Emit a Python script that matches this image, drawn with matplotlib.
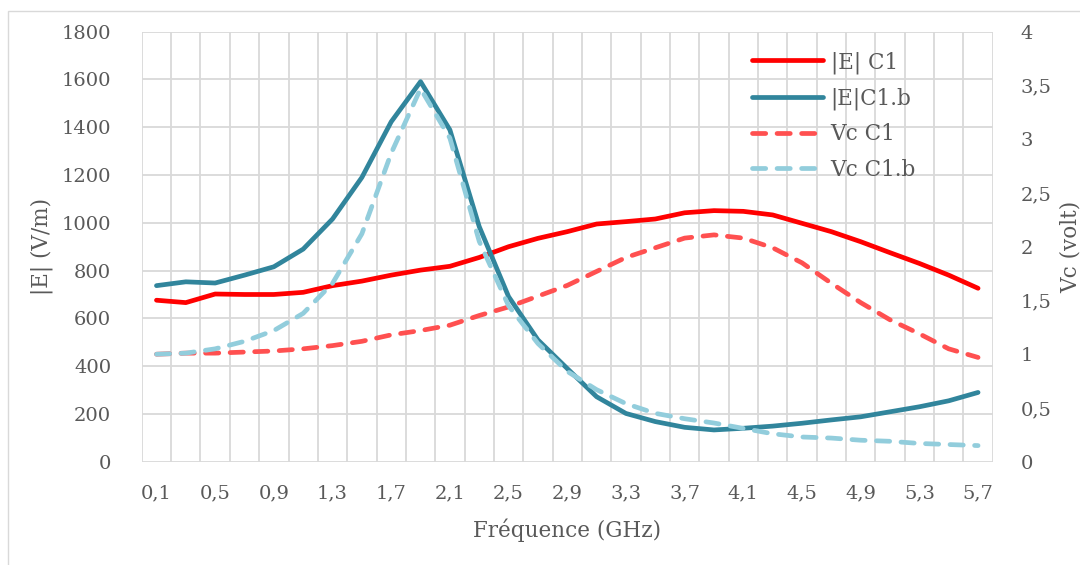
import matplotlib.pyplot as plt
from matplotlib.patches import Rectangle

# frequency categories (GHz)
freq = [0.1, 0.3, 0.5, 0.7, 0.9, 1.1, 1.3, 1.5, 1.7, 1.9, 2.1, 2.3, 2.5, 2.7, 2.9,
        3.1, 3.3, 3.5, 3.7, 3.9, 4.1, 4.3, 4.5, 4.7, 4.9, 5.1, 5.3, 5.5, 5.7]

# |E| in V/m (left axis)
e_c1 = [676, 666, 702, 700, 700, 709, 737, 756, 781, 802, 818, 855, 900, 935, 963,
        995, 1005, 1016, 1042, 1051, 1048, 1033, 998, 963, 921, 875, 830, 781, 726]
e_c1b = [737, 753, 748, 781, 816, 890, 1016, 1190, 1423, 1591, 1389, 984, 691, 510, 390,
         272, 202, 168, 144, 133, 140, 149, 161, 175, 188, 209, 230, 255, 290]

# Vc in volt (right axis)
vc_c1 = [1.0, 1.01, 1.01, 1.02, 1.03, 1.05, 1.08, 1.12, 1.18, 1.22, 1.27, 1.36, 1.44, 1.54, 1.64,
         1.77, 1.90, 1.99, 2.08, 2.11, 2.08, 1.99, 1.85, 1.66, 1.48, 1.32, 1.19, 1.05, 0.97]
vc_c1b = [1.0, 1.01, 1.05, 1.12, 1.22, 1.38, 1.66, 2.12, 2.87, 3.47, 3.01, 2.05, 1.45, 1.10, 0.84,
          0.67, 0.54, 0.45, 0.40, 0.36, 0.31, 0.26, 0.23, 0.22, 0.20, 0.19, 0.17, 0.16, 0.15]

left_ticks = [0, 200, 400, 600, 800, 1000, 1200, 1400, 1600, 1800]
right_ticks = [0, 0.5, 1, 1.5, 2, 2.5, 3, 3.5, 4]

TXT = '#595959'
GRID = '#D9D9D9'
plt.rcParams['font.family'] = ['DejaVu Serif']

fig = plt.figure(figsize=(10.8, 5.65), dpi=100)
ax = fig.add_axes([0.1313, 0.1828, 0.9192 - 0.1313, 0.9439 - 0.1828])
ax2 = ax.twinx()

# chart area border
fig.patches.append(Rectangle((8 / 1080, -0.05), 1.1, 1 - 11 / 565 + 0.05,
                             transform=fig.transFigure, fill=False,
                             edgecolor=GRID, linewidth=1.0))

x = list(range(len(freq)))
lw = 3.4
h1, = ax.plot(x, e_c1, color='#FF0000', lw=lw, solid_capstyle='round',
              solid_joinstyle='round', label='|E| C1', zorder=3)
h2, = ax.plot(x, e_c1b, color='#31859C', lw=lw, solid_capstyle='round',
              solid_joinstyle='round', label='|E|C1.b', zorder=3)
h3, = ax2.plot(x, vc_c1, color='#FF5050', lw=lw, dashes=(2.8, 2.4),
               dash_capstyle='round', label='Vc C1')
h4, = ax2.plot(x, vc_c1b, color='#92CDDC', lw=lw, dashes=(2.8, 2.4),
               dash_capstyle='round', label='Vc C1.b')

ax.set_xlim(-0.5, len(freq) - 0.5)
ax.set_ylim(0, 1800)
ax2.set_ylim(0, 4)

ax.set_xticks(x[::2])
ax.set_xticklabels([('%.1f' % f).replace('.', ',') for f in freq[::2]])
ax.set_xticks([i - 0.5 for i in range(len(freq) + 1)], minor=True)
ax.set_yticks(left_ticks)
ax.set_yticklabels([str(v) for v in left_ticks])
ax2.set_yticks(right_ticks)
ax2.set_yticklabels([('%g' % v).replace('.', ',') for v in right_ticks])

ax.grid(False)
ax.grid(which='minor', axis='x', color=GRID, lw=1.3)
ax.grid(which='major', axis='y', color=GRID, lw=1.3)
ax.set_axisbelow(True)

for a in (ax, ax2):
    a.tick_params(which='both', length=0, labelsize=14, colors=TXT)
    for s in a.spines.values():
        s.set_visible(False)
ax.tick_params(axis='y', pad=22)
ax.tick_params(axis='x', pad=16)
ax2.tick_params(axis='y', pad=20)

ax.set_xlabel('Fréquence (GHz)', fontsize=15.5, color=TXT, labelpad=12)
ax.set_ylabel('|E| (V/m)', fontsize=15.5, color=TXT, labelpad=6)
ax2.set_ylabel('Vc (volt)', fontsize=15.5, color=TXT, labelpad=6)

leg = ax2.legend(handles=[h1, h2, h3, h4], loc='upper left',
                 bbox_to_anchor=(752 / 1080, 1 - 51 / 565),
                 bbox_transform=fig.transFigure, frameon=False, fontsize=15.5,
                 handlelength=3.3, labelspacing=0.63, handletextpad=0.35,
                 borderaxespad=0, borderpad=0)
for t in leg.get_texts():
    t.set_color(TXT)

fig.savefig('out.png', dpi=100)
